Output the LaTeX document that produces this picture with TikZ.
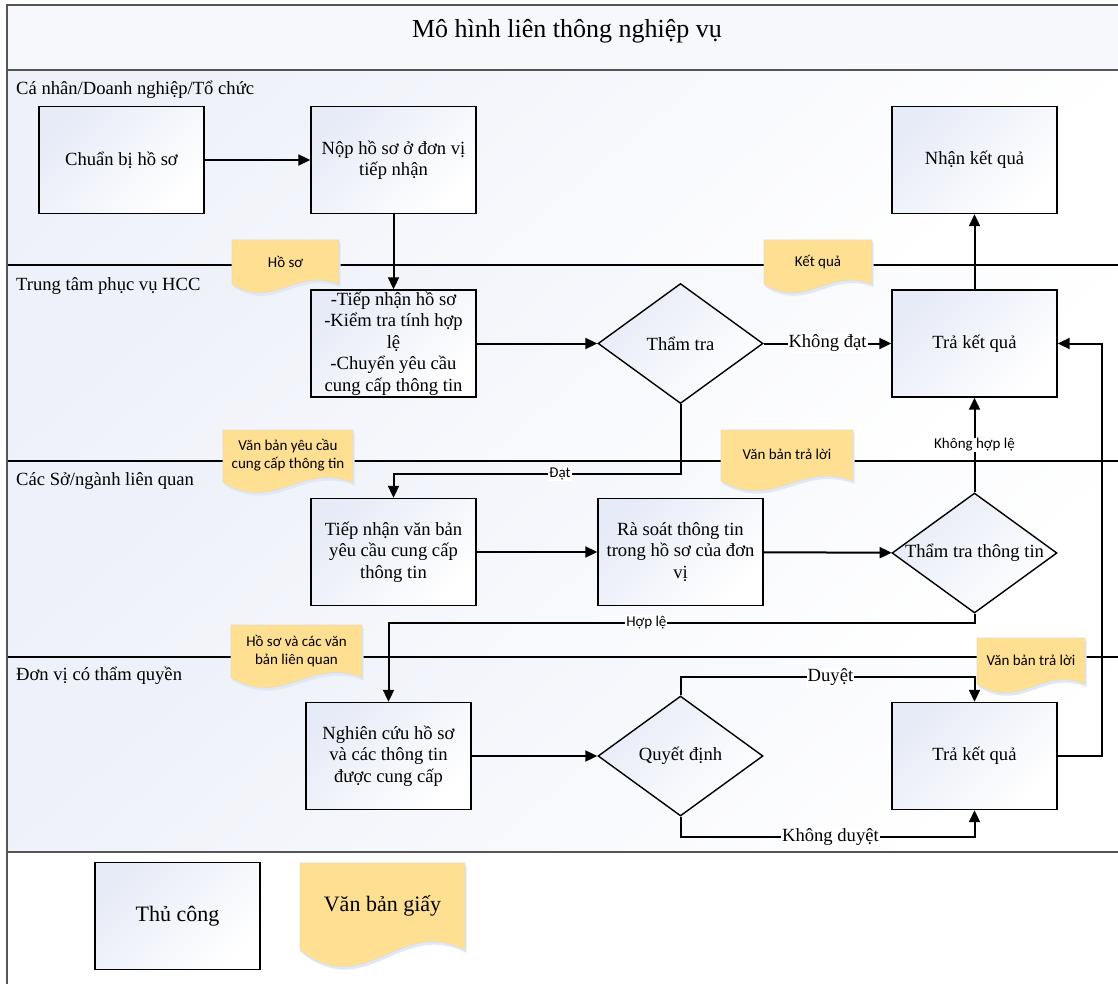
\documentclass[tikz,border=0pt]{standalone}
\usepackage{fontspec}
\setmainfont{Liberation Serif}
\newfontfamily\notefont{Carlito}
\usepackage{tikz}
\usetikzlibrary{shapes.geometric, arrows.meta}

\definecolor{bandfill}{RGB}{247,248,251}
\definecolor{lanetint}{RGB}{238,241,249}
\definecolor{boxtint}{RGB}{231,235,247}
\definecolor{sheetfill}{RGB}{255,224,146}
\definecolor{sheetedge}{RGB}{228,220,196}
\definecolor{sheetshade}{RGB}{224,232,246}
\definecolor{frameline}{RGB}{85,85,85}

\newcommand{\boxfont}{\fontsize{18.6}{21.5}\selectfont}
\newcommand{\legendfont}{\fontsize{22}{26}\selectfont}
\newcommand{\tagfont}{\notefont\fontsize{15}{18}\selectfont}

% paper sheet with wavy bottom: [node options]{name}{left}{top}{width}{height}{text}
\newcommand{\papersheet}[7][]{%
  \begin{scope}[shift={(#3,#4)}]
    \fill[sheetshade, shift={(1.5,3)}] (0,0) -- (#5,0) -- (#5,0.82*#6) .. controls (0.6*#5,0.5*#6) and (0.4*#5,1.3*#6) .. (0,0.82*#6) -- cycle;
    \filldraw[sheet] (0,0) -- (#5,0) -- (#5,0.82*#6) .. controls (0.6*#5,0.5*#6) and (0.4*#5,1.3*#6) .. (0,0.82*#6) -- cycle;
    \node[sheettext, #1] (#2) at (0.5*#5,0.4*#6) {#7};
  \end{scope}}

\tikzset{
  lane/.style={shading=axis, top color=lanetint, bottom color=white, shading angle=40},
  task/.style={draw, line width=1.4pt, minimum width=165, minimum height=107, inner sep=1pt,
    shading=axis, top color=boxtint, bottom color=white, shading angle=45, align=center, font=\boxfont},
  check/.style={diamond, draw, line width=1.4pt, minimum width=165, minimum height=120, inner sep=0pt,
    shading=axis, top color=boxtint, bottom color=white, shading angle=45, font=\boxfont},
  sheet/.style={fill=sheetfill, draw=sheetedge, line width=0.6pt},
  sheettext/.style={align=center, inner sep=0pt, font=\tagfont},
  lanename/.style={anchor=base west, inner sep=0pt, font=\boxfont},
  flow/.style={line width=2pt, -{Triangle[length=12pt,width=11pt]}},
  verdict/.style={fill=white, inner sep=1pt, font=\boxfont},
  tag/.style={fill=white, inner sep=1pt, font=\tagfont}
}

\begin{document}
\begin{tikzpicture}[x=1pt, y=-1pt]
	\useasboundingbox (0,0) rectangle (1118,984);
	\fill[white] (0,0) rectangle (1118,984);

	% swimlanes
	\fill[bandfill] (7,5) rectangle (1118,70);
	\shade[lane] (7,70) rectangle (1118,265);
	\shade[lane] (7,265) rectangle (1118,461);
	\shade[lane] (7,461) rectangle (1118,657);
	\shade[lane] (7,657) rectangle (1118,852);
	\draw[line width=1.4pt] (7,265) -- (1118,265);
	\draw[line width=1.4pt] (7,461) -- (1118,461);
	\draw[line width=1.4pt] (7,657) -- (1118,657);
	\draw[frameline, line width=2.2pt] (1118,5) -- (7,5) -- (7,984);
	\draw[frameline, line width=2.2pt] (7,70) -- (1118,70);
	\draw[frameline, line width=2.2pt] (7,852) -- (1118,852);

	\node[font=\fontsize{26}{30}\selectfont] (title) at (567,31) {Mô hình liên thông nghiệp vụ};
	\node[lanename] (lane1) at (16,95) {Cá nhân/Doanh nghiệp/Tổ chức};
	\node[lanename] (lane2) at (16,290) {Trung tâm phục vụ HCC};
	\node[lanename] (lane3) at (16,485) {Các Sở/ngành liên quan};
	\node[lanename] (lane4) at (16,680) {Đơn vị có thẩm quyền};

	% paper documents
	\papersheet{hoso}{232}{240}{107}{54}{Hồ sơ}
	\papersheet{ketqua}{764}{240}{108}{54}{Kết quả}
	\papersheet{vbyc}{223}{430}{130}{64}{Văn bản yêu cầu\\cung cấp thông tin}
	\papersheet{vbtl1}{721}{430}{132}{62}{Văn bản trả lời}
	\papersheet{hsvb}{231}{625}{131}{64}{Hồ sơ và các văn\\bản liên quan}
	\papersheet{vbtl2}{977}{638}{108}{56}{Văn bản trả lời}

	% steps
	\node[task] (prep) at (121.5,160) {Chuẩn bị hồ sơ};
	\node[task] (submit) at (393.5,160) {Nộp hồ sơ ở đơn vị\\tiếp nhận};
	\node[task] (receive) at (974.5,160) {Nhận kết quả};

	\node[task] (intake) at (393.5,343.5) {-Tiếp nhận hồ sơ\\-Kiểm tra tính hợp\\lệ\\-Chuyển yêu cầu\\cung cấp thông tin};
	\node[check] (check1) at (680.5,343.5) {Thẩm tra};
	\node[task] (reply1) at (974.5,343.5) {Trả kết quả};

	\node[task] (reqin) at (393.5,552) {Tiếp nhận văn bản\\yêu cầu cung cấp\\thông tin};
	\node[task] (review) at (680.5,552) {Rà soát thông tin\\trong hồ sơ của đơn\\vị};
	\node[check] (check2) at (974.5,553) {\makebox[0pt]{Thẩm tra thông tin}};

	\node[task] (study) at (388.5,756) {Nghiên cứu hồ sơ\\và các thông tin\\được cung cấp};
	\node[check] (decide) at (680.5,756) {Quyết định};
	\node[task] (reply2) at (974.5,756) {Trả kết quả};

	% legend
	\node[task, font=\legendfont] (manual) at (177.5,916) {Thủ công};
	\papersheet[font=\legendfont]{paper}{300}{863}{165}{106}{Văn bản giấy}

	% flows
	\draw[flow] (prep) -- (submit);
	\draw[flow] (submit) -- (intake);
	\draw[flow] (intake) -- (check1);
	\draw[flow] (check1) -- node[verdict] {Không đạt} (reply1);
	\draw[flow] (reply1) -- (receive);
	\draw[flow] (check1.south) -- ++(0,70) -| node[tag, pos=0.21] {Đạt} (reqin.north);
	\draw[flow] (reqin) -- (review);
	\draw[flow] (review) -- (check2);
	\draw[flow] (check2.north) -- node[tag, pos=0.5] {Không hợp lệ} (reply1.south);
	\draw[flow] (check2.south) -- ++(0,9) -| node[tag, pos=0.28] {Hợp lệ} (study.north);
	\draw[flow] (study) -- (decide);
	\draw[flow] (decide.north) -- ++(0,-18) -| node[verdict, pos=0.255] {Duyệt} (reply2.north);
	\draw[flow] (decide.south) -- ++(0,20) -| node[verdict, pos=0.255] {Không duyệt} (reply2.south);
	\draw[flow] (reply2.east) -- ++(44,0) |- (reply1.east);
\end{tikzpicture}
\end{document}
